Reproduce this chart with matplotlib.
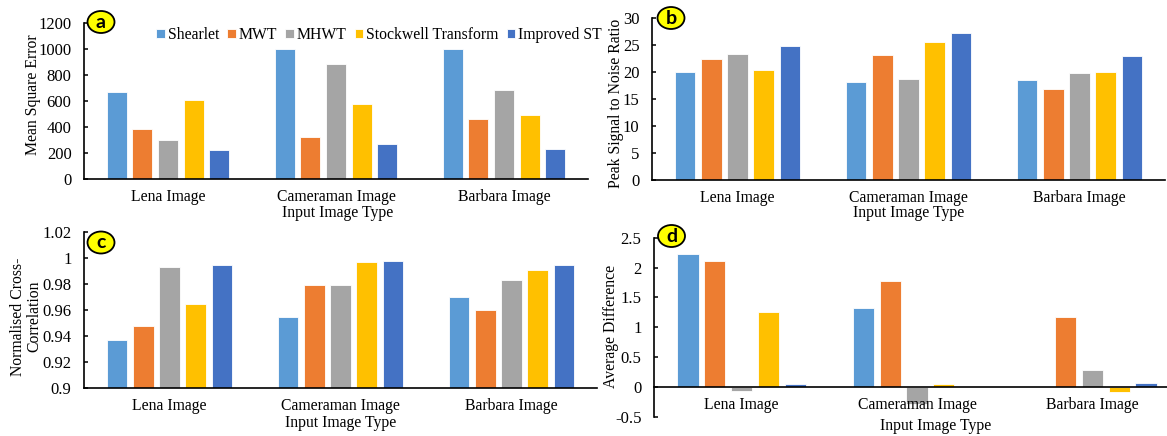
import matplotlib.pyplot as plt
from matplotlib.patches import Ellipse
from matplotlib.ticker import FuncFormatter
import numpy as np

# categorias y metodos
images = ['Lena Image', 'Cameraman Image', 'Barbara Image']
methods = ['Shearlet', 'MWT', 'MHWT', 'Stockwell Transform', 'Improved ST']
colors = ['#5B9BD5', '#ED7D31', '#A5A5A5', '#FFC000', '#4472C4']

# valores (una lista por metodo: Lena, Cameraman, Barbara)
mse_shearlet = [668, 1000, 995]
mse_mwt = [383, 322, 462]
mse_mhwt = [302, 882, 688]
mse_stockwell = [606, 577, 492]
mse_improved = [222, 274, 230]

psnr_shearlet = [19.9, 18.2, 18.4]
psnr_mwt = [22.3, 23.1, 16.8]
psnr_mhwt = [23.3, 18.6, 19.8]
psnr_stockwell = [20.4, 25.6, 19.9]
psnr_improved = [24.7, 27.1, 22.9]

ncc_shearlet = [0.937, 0.955, 0.970]
ncc_mwt = [0.948, 0.979, 0.960]
ncc_mhwt = [0.993, 0.979, 0.983]
ncc_stockwell = [0.965, 0.997, 0.991]
ncc_improved = [0.995, 0.998, 0.995]

ad_shearlet = [2.23, 1.32, 0.0]
ad_mwt = [2.11, 1.78, 1.17]
ad_mhwt = [-0.06, -0.28, 0.29]
ad_stockwell = [1.26, 0.05, -0.08]
ad_improved = [0.06, 0.0, 0.07]

plt.rcParams['font.family'] = ['Liberation Serif', 'DejaVu Serif']
plt.rcParams['font.size'] = 11

fig = plt.figure(figsize=(11.67, 4.36), dpi=100)
W, H = 1167.0, 436.0


def ejes(left, right, top, bottom):
    # posicion en pixeles de la imagen -> coordenadas de figura
    return fig.add_axes([left / W, 1 - bottom / H, (right - left) / W, (bottom - top) / H])


def dibujar(ax, series, ylim, yticks, ylabel, ylab_xy, xlab_xy):
    x = np.arange(len(images))
    pitch = 0.153
    for i, vals in enumerate(series):
        ax.bar(x + (i - 2) * pitch, vals, width=0.12, color=colors[i],
               edgecolor='white', linewidth=0.6, label=methods[i])
    ax.set_xlim(-0.5, 2.5)
    ax.set_ylim(*ylim)
    ax.set_yticks(yticks)
    ax.yaxis.set_major_formatter(FuncFormatter(lambda v, p: '%g' % round(v, 4)))
    ax.set_xticks(x)
    ax.set_xticklabels(images)
    for s in ['top', 'right']:
        ax.spines[s].set_visible(False)
    for s in ['left', 'bottom']:
        ax.spines[s].set_linewidth(1.2)
    ax.tick_params(axis='y', direction='in', length=3, width=1.1, pad=9, labelsize=12)
    ax.tick_params(axis='x', length=0, pad=7, labelsize=11.3)
    ax.set_ylabel(ylabel, fontsize=11.3, linespacing=1.0)
    ax.yaxis.set_label_coords(*ylab_xy)
    ax.yaxis.label.set_verticalalignment('center')
    ax.set_xlabel('Input Image Type', fontsize=11.3)
    ax.xaxis.set_label_coords(*xlab_xy)
    ax.xaxis.label.set_verticalalignment('center')


def insignia(cx, cy, letra):
    fig.add_artist(Ellipse((cx / W, 1 - cy / H), 27 / W, 22 / H, transform=fig.transFigure,
                           facecolor='#FFFF00', edgecolor='black', linewidth=1.3, zorder=10))
    fig.text(cx / W, 1 - cy / H, letra, ha='center', va='center', fontsize=14,
             fontweight='bold', family=['Lato', 'DejaVu Sans'], zorder=11)


# a) MSE
ax_a = ejes(84, 588, 22.7, 179.3)
dibujar(ax_a, [mse_shearlet, mse_mwt, mse_mhwt, mse_stockwell, mse_improved],
        (0, 1200), range(0, 1201, 200), 'Mean Square Error', (-0.101, 0.538), (0.504, -0.215))

# b) PSNR
ax_b = ejes(652, 1165, 17.7, 180)
dibujar(ax_b, [psnr_shearlet, psnr_mwt, psnr_mhwt, psnr_stockwell, psnr_improved],
        (0, 30), range(0, 31, 5), 'Peak Signal to Noise Ratio', (-0.071, 0.471), (0.5, -0.203))

# c) NCC
ax_c = ejes(84, 597, 232.3, 388)
dibujar(ax_c, [ncc_shearlet, ncc_mwt, ncc_mhwt, ncc_stockwell, ncc_improved],
        (0.9, 1.02), np.arange(0.9, 1.021, 0.02), 'Normalised Cross-\nCorrelation',
        (-0.113, 0.459), (0.5, -0.225))

# d) diferencia media, eje x en cero
ax_d = ejes(654, 1180, 237.7, 417)
dibujar(ax_d, [ad_shearlet, ad_mwt, ad_mhwt, ad_stockwell, ad_improved],
        (-0.5, 2.5), np.arange(-0.5, 2.51, 0.5), 'Average Difference', (-0.082, 0.505), (0.536, -0.05))
ax_d.spines['bottom'].set_position(('data', 0))

# leyenda arriba del panel a
handles, labels = ax_a.get_legend_handles_labels()
fig.legend(handles, labels, loc='center left', bbox_to_anchor=(156 / W, 1 - 35 / H),
           ncol=5, frameon=False, fontsize=11.3, handlelength=0.55, handleheight=0.55,
           handletextpad=0.2, columnspacing=0.5, borderpad=0, borderaxespad=0)

insignia(101, 22, 'a')
insignia(671, 18, 'b')
insignia(101, 242.5, 'c')
insignia(671.5, 236, 'd')

plt.savefig('out.png', dpi=100)
